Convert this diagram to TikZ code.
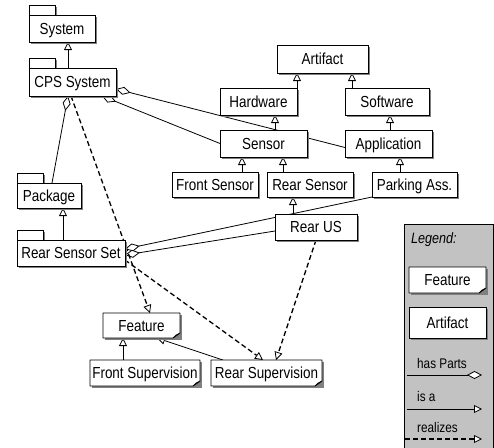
\documentclass[tikz,border=0pt]{standalone}
\usepackage{fontspec}
\setmainfont{Liberation Sans}[FakeStretch=0.84]
\usetikzlibrary{arrows.meta,calc}
\pgfdeclarelayer{legendbg}\pgfdeclarelayer{edges}\pgfdeclarelayer{boxes}
\pgfsetlayers{legendbg,edges,boxes,main}
\definecolor{shc}{gray}{0.5}
\definecolor{legc}{gray}{0.76}
\tikzset{
 lbl/.style={inner sep=0pt, outer sep=0pt, text height=11.7pt, text depth=0pt, font=\fontsize{16}{16}\selectfont},
 legl/.style={inner sep=0pt, anchor=west, text height=10pt, text depth=0pt, font=\fontsize{14}{14}\selectfont},
 conn/.style={line width=0.8pt},
 isa/.style={conn, -{Triangle[fill=white, width=8pt, length=8pt, line width=0.8pt]}},
 haspart/.style={conn, {Diamond[fill=white, width=8pt, length=15pt, line width=0.8pt]}-},
 realizes/.style={line width=1.3pt, dash pattern=on 5pt off 3pt, -{Triangle[fill=white, width=8pt, length=8pt, line width=0.8pt]}},
 boxline/.style={line width=0.8pt},
}
\newcommand\mk[6]{\node[lbl, minimum width={(#4)-(#2)}, minimum height={(#5)-(#3)}] (#1) at ({((#2)+(#4))/2},{((#3)+(#5))/2}) {#6};}
\newcommand\artshape[1]{%
 \fill[shc] ([shift={(2,2)}]#1.north west) rectangle ([shift={(2,2)}]#1.south east);
 \draw[boxline, fill=white] (#1.north west) rectangle (#1.south east);}
\newcommand\featshape[1]{%
 \fill[shc] ([shift={(2,2)}]#1.north west) rectangle ([shift={(2,2)}]#1.south east);
 \draw[boxline, fill=white, line join=round] (#1.north west) -- (#1.north east) -- ([shift={(0,-5)}]#1.south east) -- ([shift={(-7,0)}]#1.south east) -- (#1.south west) -- cycle;
 \filldraw[line width=0.6pt, fill=shc!50, line join=round] ([shift={(-7,0)}]#1.south east) -- ([shift={(-4,-3)}]#1.south east) -- ([shift={(0,-5)}]#1.south east) -- cycle;}
\newcommand\pkgshape[1]{%
 \fill[shc] ([shift={(2,-8)}]#1.north west) rectangle ([shift={(28,2)}]#1.north west);
 \fill[shc] ([shift={(2,2)}]#1.north west) rectangle ([shift={(2,2)}]#1.south east);
 \draw[boxline, fill=white] ([shift={(0,-10)}]#1.north west) rectangle ([shift={(26,0)}]#1.north west);
 \draw[boxline, fill=white] (#1.north west) rectangle (#1.south east);}
\begin{document}
\begin{tikzpicture}[x=1pt,y=-1pt]
\useasboundingbox (0,0) rectangle (494,447);
% nodes
\mk{sys}{29}{15}{95}{42}{System}
\mk{cps}{29}{68}{116}{96}{CPS System}
\mk{pkg}{17}{183}{81}{208}{Package}
\mk{rss}{17}{240}{125}{266}{Rear Sensor Set}
\mk{art}{277}{45}{368}{73}{Artifact}
\mk{hw}{220}{88}{297}{115}{Hardware}
\mk{sw}{345}{88}{429}{115}{Software}
\mk{sen}{220}{130}{307}{157}{Sensor}
\mk{app}{345}{130}{432}{157}{Application}
\mk{fs}{172}{172}{258}{197}{Front Sensor}
\mk{rs}{267}{172}{353}{197}{Rear Sensor}
\mk{pa}{372}{172}{457}{197}{Parking Ass.}
\mk{rus}{275}{214}{357}{240}{Rear US}
\mk{feat}{103}{313}{180}{338}{Feature}
\mk{fsup}{90}{360}{200}{386}{Front Supervision}
\mk{rsup}{211}{360}{322}{386}{Rear Supervision}
\mk{lfeat}{409}{267}{486}{293}{Feature}
\mk{lart}{409}{307}{486}{338}{Artifact}
% legend texts
\node[legl, font=\fontsize{15}{15}\selectfont\itshape] (legt) at (411,238) {Legend:};
\node[legl] (lhp) at (417,363) {has Parts};
\node[legl] (lia) at (417,396) {is a};
\node[legl] (lre) at (417,427) {realizes};
\coordinate (hp1) at (407,375); \coordinate (hp2) at (482,375);
\coordinate (ia1) at (407,409); \coordinate (ia2) at (482,409);
\coordinate (re1) at (405,439); \coordinate (re2) at (482,439);
% legend background
\begin{pgfonlayer}{legendbg}
\filldraw[fill=legc, line width=0.8pt] (404,224) rectangle (493,450);
\end{pgfonlayer}
% shapes
\begin{pgfonlayer}{boxes}
\pkgshape{sys}\pkgshape{cps}\pkgshape{pkg}\pkgshape{rss}
\artshape{art}\artshape{hw}\artshape{sw}\artshape{sen}\artshape{app}
\artshape{fs}\artshape{rs}\artshape{pa}\artshape{rus}\artshape{lart}
\featshape{feat}\featshape{fsup}\featshape{rsup}\featshape{lfeat}
\end{pgfonlayer}
% edges
\begin{pgfonlayer}{edges}
\draw[isa] ([shift={(39,0)}]cps.north west) -- ([shift={(39,0)}]sys.south west);
\draw[isa] ([shift={(55,0)}]sen.north west) -- ([shift={(55,0)}]hw.south west);
\draw[isa] (hw.north east) -- ([shift={(20,0)}]art.south west);
\draw[isa] ([shift={(7,0)}]sw.north west) -- ([shift={(75,0)}]art.south west);
\draw[isa] ([shift={(45,0)}]app.north west) -- ([shift={(45,0)}]sw.south west);
\draw[isa] ([shift={(70,0)}]fs.north west) -- ([shift={(22,0)}]sen.south west);
\draw[isa] ([shift={(16,0)}]rs.north west) -- ([shift={(63,0)}]sen.south west);
\draw[isa] ([shift={(28,0)}]pa.north west) -- ([shift={(55,0)}]app.south west);
\draw[isa] ([shift={(18,0)}]rus.north west) -- ([shift={(26,0)}]rs.south west);
\draw[isa] ([shift={(46,0)}]rss.north west) -- ([shift={(46,0)}]pkg.south west);
\draw[isa] ([shift={(33,0)}]fsup.north west) -- ([shift={(20,0)}]feat.south west);
\draw[isa] ([shift={(12,0)}]rsup.north west) -- ([shift={(54,0)}]feat.south west);
\draw[haspart] ([shift={(39,0)}]cps.south west) -- ([shift={(35,0)}]pkg.north west);
\draw[haspart] ([shift={(0,7)}]cps.east) -- ([shift={(0,4)}]app.west);
\draw[haspart] ([shift={(73,0)}]cps.south west) -- (sen.west);
\draw[haspart] ([shift={(0,-4)}]rss.east) -- (pa.south west);
\draw[haspart] ([shift={(0,2)}]rss.east) -- ([shift={(0,4)}]rus.west);
\draw[realizes] ([shift={(42,0)}]cps.south west) -- ([shift={(47,0)}]feat.north west);
\draw[realizes] ([shift={(0,7)}]rss.east) -- ([shift={(52,0)}]rsup.north west);
\draw[realizes] ([shift={(41,0)}]rus.south west) -- ([shift={(65,0)}]rsup.north west);
\draw[haspart] (hp2) -- (hp1);
\draw[isa] (ia1) -- (ia2);
\draw[realizes] (re1) -- (re2);
\end{pgfonlayer}
\end{tikzpicture}
\end{document}
